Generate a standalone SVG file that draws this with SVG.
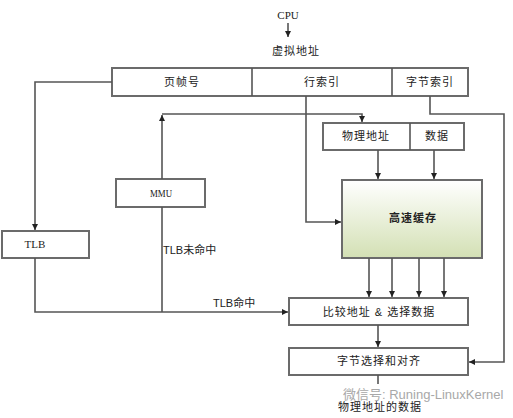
<svg xmlns="http://www.w3.org/2000/svg" width="513" height="418" viewBox="0 0 513 418">
<style>
.box{fill:#fff;stroke:#6b6b6b;stroke-width:2}
.ln{fill:none;stroke:#555;stroke-width:1.6}
.t{font-family:"Liberation Sans","Noto Sans CJK SC",sans-serif;font-size:11px;letter-spacing:1px;fill:#222;text-anchor:middle;dominant-baseline:central}
.s{font-family:"Liberation Serif","Noto Sans CJK SC",serif;font-size:11px;fill:#222;text-anchor:middle;dominant-baseline:central}
.l{font-family:"Liberation Sans","Noto Sans CJK SC",sans-serif;font-size:11px;fill:#222;dominant-baseline:central}
</style>
<defs>
<marker id="a" viewBox="0 0 8 8" refX="8" refY="4" markerWidth="6" markerHeight="6" markerUnits="userSpaceOnUse" orient="auto"><path d="M0,0L8,4L0,8z" fill="#222"/></marker>
<linearGradient id="g" x1="0" y1="0" x2="0" y2="1"><stop offset="0" stop-color="#ffffff"/><stop offset="1" stop-color="#d3e0b4"/></linearGradient>
</defs>
<rect width="513" height="418" fill="#fff"/>
<g id="cpu"><text class="s" x="288" y="15">CPU</text></g>
<g id="vaddr"><text class="t" x="296" y="51">虚拟地址</text></g>
<g id="addrbar">
<rect class="box" x="112" y="68" width="356" height="28"/>
<line class="ln" x1="252" y1="68" x2="252" y2="96" stroke-width="2"/>
<line class="ln" x1="392" y1="68" x2="392" y2="96" stroke-width="2"/>
<text class="t" x="182" y="82">页帧号</text>
<text class="t" x="322" y="82">行索引</text>
<text class="t" x="430" y="82">字节索引</text>
</g>
<g id="tlb"><rect class="box" x="2" y="231" width="87" height="27"/><text class="s" x="35" y="244">TLB</text></g>
<g id="mmu"><rect class="box" x="116" y="179" width="89" height="28"/><text class="s" x="161" y="193" textLength="22" lengthAdjust="spacingAndGlyphs">MMU</text></g>
<g id="paddr">
<rect class="box" x="323" y="123" width="141" height="27"/>
<line class="ln" x1="410" y1="123" x2="410" y2="150" stroke-width="2"/>
<text class="t" x="366" y="136">物理地址</text>
<text class="t" x="437" y="136">数据</text>
</g>
<g id="cache"><rect x="342" y="180" width="140" height="78" fill="url(#g)" stroke="#6b6b6b" stroke-width="2"/><text class="t" x="413" y="218" font-weight="bold">高速缓存</text></g>
<g id="compare"><rect class="box" x="289" y="298" width="179" height="27"/><text class="t" x="379" y="312">比较地址 &amp; 选择数据</text></g>
<g id="bytesel"><rect class="box" x="289" y="348" width="179" height="27"/><text class="t" x="379" y="361">字节选择和对齐</text></g>
<g id="output"><text class="t" x="380" y="407">物理地址的数据</text></g>
<g id="connectors">
<line class="ln" x1="288" y1="23" x2="288" y2="37" marker-end="url(#a)"/>
<polyline class="ln" points="112,82 35,82 35,230" marker-end="url(#a)"/>
<polyline class="ln" points="35,258 35,312 288,312" marker-end="url(#a)"/>
<line class="ln" x1="162" y1="312" x2="162" y2="207"/>
<line class="ln" x1="162" y1="179" x2="162" y2="115" marker-end="url(#a)"/>
<polyline class="ln" points="162,114 362,114 362,122" marker-end="url(#a)"/>
<polyline class="ln" points="306,96 306,222 341,222" marker-end="url(#a)"/>
<polyline class="ln" points="430,96 430,114 504,114 504,362 469,362" marker-end="url(#a)"/>
<line class="ln" x1="378" y1="150" x2="378" y2="179" marker-end="url(#a)"/>
<line class="ln" x1="434" y1="150" x2="434" y2="179" marker-end="url(#a)"/>
<line class="ln" x1="369" y1="258" x2="369" y2="297" marker-end="url(#a)"/>
<line class="ln" x1="392" y1="258" x2="392" y2="297" marker-end="url(#a)"/>
<line class="ln" x1="419" y1="258" x2="419" y2="297" marker-end="url(#a)"/>
<line class="ln" x1="444" y1="258" x2="444" y2="297" marker-end="url(#a)"/>
<line class="ln" x1="378" y1="325" x2="378" y2="347" marker-end="url(#a)"/>
<line class="ln" x1="378" y1="375" x2="378" y2="384"/>
<text class="l" x="163" y="250">TLB未命中</text>
<text class="l" x="213" y="303">TLB命中</text>
</g>
<g id="watermark">
<text class="l" x="343" y="394" style="font-size:13px;fill:#a8a8a8">微信号: Runing-LinuxKernel</text>
</g>
</svg>
